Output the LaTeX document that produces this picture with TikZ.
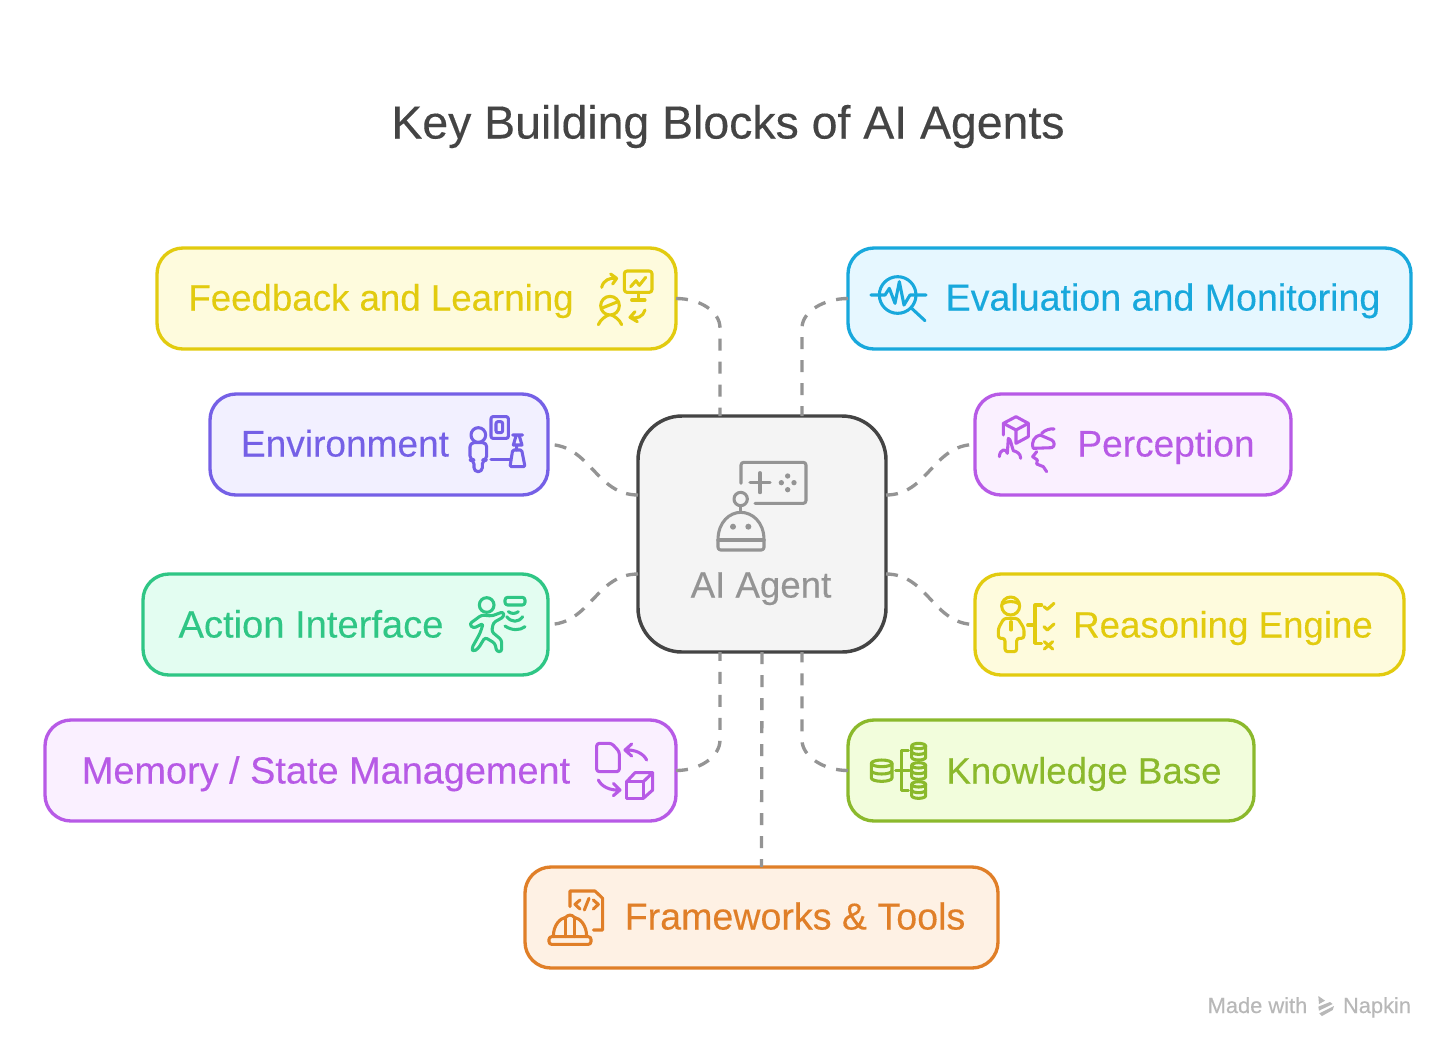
\documentclass[tikz,border=0pt]{standalone}
\usepackage{fontspec}
\setmainfont[FakeBold=0.25]{Liberation Sans}
\usetikzlibrary{calc}
\definecolor{cyellow}{HTML}{E2CB0F}\definecolor{fyellow}{HTML}{FEFBDD}
\definecolor{cblue}{HTML}{18A8DC}\definecolor{fblue}{HTML}{E6F7FF}
\definecolor{cindigo}{HTML}{7560E6}\definecolor{findigo}{HTML}{F2F0FF}
\definecolor{cpurple}{HTML}{B75AE6}\definecolor{fpurple}{HTML}{FAF0FF}
\definecolor{cgreen}{HTML}{2FC685}\definecolor{fgreen}{HTML}{E3FDF1}
\definecolor{clime}{HTML}{8BB92C}\definecolor{flime}{HTML}{F2FDDC}
\definecolor{corange}{HTML}{E07F28}\definecolor{forange}{HTML}{FEF1E4}
\definecolor{cgrey}{HTML}{949494}\definecolor{cdark}{HTML}{444444}
\definecolor{fgrey}{HTML}{F4F4F4}\definecolor{cwm}{HTML}{B8B8B8}
\newcommand\pxbox[7]{\node[#6,fill=f#7,draw=c#7,minimum width={(#4-#2)*0.75pt},minimum height={(#5-#3)*0.75pt}] (#1) at ({(#2+#4)/2},{(#3+#5)/2}) {};}
\newcommand\dbcyl[5]{% cx cy rx ry h
  \draw (#1,#2-#5/2) ellipse ({#3} and {#4});
  \draw (#1-#3,#2-#5/2) -- (#1-#3,#2+#5/2) arc[start angle=180,end angle=0,x radius=#3,y radius=#4] -- (#1+#3,#2-#5/2);
  \draw (#1-#3,#2) arc[start angle=180,end angle=0,x radius=#3,y radius=#4];}
\tikzset{
  blockbox/.style={rectangle,rounded corners=19.5pt,line width=2.5pt,inner sep=0pt,outer sep=0pt},
  blocklabel/.style={anchor=base,inner sep=0pt,font=\fontsize{#1pt}{30pt}\selectfont},
  blocklabel/.default=27.5,
  linkline/.style={draw=cgrey,line width=2.5pt,dash pattern=on 9pt off 8.25pt},
  sline/.style={draw=cgrey,line width=2.5pt,dash pattern=on 9pt off 7.5pt},
  iconline/.style={line width=2.3pt,line cap=round,line join=round,fill=none},
  zoomframe/.style={shift={#1},x=0.25pt,y=-0.25pt}
}
\begin{document}
\begin{tikzpicture}[x=0.75pt,y=-0.75pt]
\useasboundingbox (0,0) rectangle (1456,1058);
\fill[white] (0,0) rectangle (1456,1058);
\node[anchor=base,inner sep=0pt,text=cdark,font=\fontsize{34.8pt}{38pt}\selectfont] (title) at (728,138.5) {Key Building Blocks of AI Agents};
% boxes
\pxbox{feedback}{157}{248}{676}{349}{blockbox}{yellow}
\pxbox{evaluation}{848}{248}{1411}{349}{blockbox}{blue}
\pxbox{environment}{210}{394}{548}{495}{blockbox}{indigo}
\pxbox{perception}{975}{394}{1291}{495}{blockbox}{purple}
\pxbox{action}{143}{574}{548}{675}{blockbox}{green}
\pxbox{reasoning}{975}{574}{1404}{675}{blockbox}{yellow}
\pxbox{memory}{45}{720}{676}{821}{blockbox}{purple}
\pxbox{knowledge}{848}{720}{1254}{821}{blockbox}{lime}
\pxbox{frameworks}{525}{867}{998}{968}{blockbox}{orange}
\node[rectangle,rounded corners=33pt,line width=2.6pt,inner sep=0pt,outer sep=0pt,fill=fgrey,draw=cdark,minimum width=186pt,minimum height=177pt] (agent) at (762,534) {};
% labels
\node[blocklabel,text=cyellow] (lfeedback) at (381,310.5) {Feedback and Learning};
\node[blocklabel=28.2,text=cblue] (levaluation) at (1163,310.5) {Evaluation and Monitoring};
\node[blocklabel=27.8,text=cindigo] (lenvironment) at (345,456.5) {Environment};
\node[blocklabel=27.8,text=cpurple] (lperception) at (1166,456.5) {Perception};
\node[blocklabel=28.6,text=cgreen] (laction) at (311,637.5) {Action Interface};
\node[blocklabel,text=cyellow] (lreasoning) at (1223,637.5) {Reasoning Engine};
\node[blocklabel=28.4,text=cpurple] (lmemory) at (326,783.5) {Memory / State Management};
\node[blocklabel,text=clime] (lknowledge) at (1084,783.5) {Knowledge Base};
\node[blocklabel=28.2,text=corange] (lframeworks) at (795,929.5) {Frameworks \& Tools};
\node[blocklabel,text=cgrey] (lagent) at (761,597.5) {AI Agent};
\node[anchor=base,inner sep=0pt,text=cwm,font=\fontsize{16.4pt}{18pt}\selectfont] (wm1) at (1257.5,1013) {Made with};
\node[anchor=base,inner sep=0pt,text=cwm,font=\fontsize{16.4pt}{18pt}\selectfont] (wm2) at (1377,1013) {Napkin};
% connector ends on the agent
\coordinate (aNL) at ($(agent.north)+(-42,0)$);
\coordinate (aNR) at ($(agent.north)+(40,0)$);
\coordinate (aSL) at ($(agent.south)+(-42,0)$);
\coordinate (aSR) at ($(agent.south)+(40,0)$);
\coordinate (aWU) at ($(agent.west)+(0,-39)$);
\coordinate (aWD) at ($(agent.west)+(0,40)$);
\coordinate (aEU) at ($(agent.east)+(0,-39)$);
\coordinate (aED) at ($(agent.east)+(0,40)$);
% connectors
\draw[linkline] (feedback.east) .. controls +(24,0) and ($(aNL)+(0,-104.5)$) .. ($(aNL)+(0,-88)$) -- (aNL);
\draw[linkline] (evaluation.west) .. controls +(-24,0) and ($(aNR)+(0,-104.5)$) .. ($(aNR)+(0,-88)$) -- (aNR);
\draw[sline] (aWU) .. controls +(-42,0) and ($(environment.east)+(42,0)$) .. (environment.east);
\draw[sline] (aEU) .. controls +(42,0) and ($(perception.west)+(-42,0)$) .. (perception.west);
\draw[sline] (aWD) .. controls +(-42,0) and ($(action.east)+(42,0)$) .. (action.east);
\draw[sline] (aED) .. controls +(42,0) and ($(reasoning.west)+(-42,0)$) .. (reasoning.west);
\draw[linkline] (memory.east) .. controls +(24,0) and ($(aSL)+(0,104.5)$) .. ($(aSL)+(0,88)$) -- (aSL);
\draw[linkline] (knowledge.west) .. controls +(-24,0) and ($(aSR)+(0,104.5)$) .. ($(aSR)+(0,88)$) -- (aSR);
\draw[linkline] (agent.south) -- (frameworks.north);
% agent icon
\begin{scope}[zoomframe={(580,260)},iconline,draw=cgrey]
\draw (483,670) -- (483,615) [rounded corners=2pt] -- (483,607) -- (678,607) -- (678,730) -- (525,730);
\draw (540,638) -- (540,698) (510,668) -- (570,668);
\fill[cgrey] (623,648) circle (8) (604,668) circle (8) (642,668) circle (8) (623,689) circle (8);
\draw (482,717) circle (20);
\draw (482,737) -- (482,757);
\draw[rounded corners=2pt] (414,840) -- (414,870) -- (552,870) -- (552,840);
\draw (414,840) -- (552,840);
\draw (414,840) .. controls (414,785) and (450,757) .. (482,757) .. controls (516,757) and (552,785) .. (552,840);
\fill[cgrey] (459,800) circle (9) (505,800) circle (9);
\end{scope}
% feedback icon
\begin{scope}[zoomframe={(580,260)},iconline,draw=cyellow]
\draw[rounded corners=2pt] (133,33) rectangle (216,97);
\draw (175,97) -- (175,120) (155,120) -- (195,120);
\draw (152,80) -- (168,62) -- (178,76) -- (197,52);
\draw (65,82) .. controls (70,60) and (90,52) .. (110,55) (92,42) -- (110,55) -- (98,72);
\draw (90,137) circle (28);
\draw (64,145) -- (114,125);
\draw (55,194) .. controls (62,178) and (75,170) .. (85,165) (125,194) .. controls (118,178) and (105,170) .. (95,165);
\draw (195,150) .. controls (190,170) and (170,178) .. (150,172) (165,155) -- (150,172) -- (172,185);
\end{scope}
% environment icon
\begin{scope}[zoomframe={(450,400)},iconline,draw=cindigo]
\draw (85,105) circle (22);
\draw[rounded corners=3pt] (60,180) -- (60,128) -- (110,128) -- (110,180) -- (97,180) -- (97,215) -- (72,215) -- (72,180) -- cycle;
\draw[rounded corners=1.5pt] (123,50) rectangle (175,115) (138,65) rectangle (158,98);
\draw (123,178) -- (180,178);
\draw[rounded corners=1pt] (180,200) -- (188,150) -- (215,150) -- (225,200) -- cycle;
\draw (188,105) -- (218,105) (198,108) -- (190,135) -- (216,135) -- (208,108) (200,135) -- (200,150);
\end{scope}
% action icon
\begin{scope}[zoomframe={(450,400)},iconline,draw=cgreen]
\draw (110,615) circle (22);
\draw[rounded corners=2pt] (58,672) -- (95,645) -- (125,648) -- (160,635) -- (162,650) -- (130,668) -- (125,695) -- (155,720) -- (155,755) -- (140,755) -- (135,730) -- (105,712) -- (85,745) -- (70,755) -- (65,745) -- (90,700) -- (100,670) -- (70,685) -- cycle;
\draw[rounded corners=2pt] (165,592) rectangle (225,615);
\draw (175,635) .. controls (185,642) and (195,642) .. (205,635);
\draw (170,650) .. controls (185,668) and (205,668) .. (218,650);
\draw (165,678) .. controls (185,692) and (210,692) .. (225,680);
\end{scope}
% evaluation icon
\begin{scope}[zoomframe={(860,260)},iconline,draw=cblue]
\draw (113,105) circle (55);
\draw (33,105) -- (75,105) -- (88,85) -- (105,130) -- (118,65) -- (132,135) -- (150,105) -- (198,105);
\draw (155,145) -- (195,182);
\end{scope}
% perception icon
\begin{scope}[zoomframe={(860,260)},iconline,draw=cpurple]
\draw (430,525) -- (430,490) -- (468,470) -- (505,490) -- (468,510) -- (430,490);
\draw (505,490) -- (505,530) -- (468,550) -- (468,510);
\draw (418,590) .. controls (420,565) and (440,565) .. (442,580) (442,580) -- (445,535) .. controls (452,535) and (455,560) .. (460,572) .. controls (470,575) and (482,580) .. (482,595);
\draw (520,565) .. controls (512,545) and (525,528) .. (540,525) -- (575,540) .. controls (585,545) and (585,560) .. (575,563) -- cycle;
\draw (545,520) .. controls (555,510) and (570,505) .. (582,507);
\draw (530,575) -- (518,590) -- (532,600) -- (530,612) -- (550,620) -- (560,635);
\end{scope}
% reasoning icon
\begin{scope}[zoomframe={(860,580)},iconline,draw=cyellow]
\draw (452,78) circle (27);
\draw (426,72) .. controls (440,62) and (465,62) .. (478,72);
\draw[rounded corners=2pt] (415,175) -- (415,145) -- (432,115) -- (473,115) -- (492,145) -- (492,175) -- (470,175) -- (470,215) -- (435,215) -- (435,175) -- cycle;
\draw (453,125) -- (453,150);
\draw (503,135) -- (525,135);
\draw (545,75) -- (525,75) -- (525,190) -- (545,190);
\draw (552,80) -- (562,88) -- (582,70) (552,140) -- (562,150) -- (582,132);
\draw (553,185) -- (578,207) (578,185) -- (553,207);
\end{scope}
% knowledge icon
\begin{scope}[zoomframe={(860,580)},iconline,draw=clime]
\dbcyl{65}{572}{31}{10}{44}
\dbcyl{176}{515}{21}{8}{34}
\dbcyl{176}{573}{21}{8}{34}
\dbcyl{176}{630}{21}{8}{34}
\draw (107,572) -- (148,572);
\draw (145,512) -- (125,512) -- (125,632) -- (145,632);
\end{scope}
% memory icon
\begin{scope}[zoomframe={(530,730)},iconline,draw=cpurple]
\draw[rounded corners=2pt] (200,40) -- (245,40) -- (268,65) -- (268,125) -- (200,125) -- cycle;
\draw (350,90) .. controls (340,70) and (315,58) .. (285,60) (305,42) -- (285,60) -- (305,78);
\draw (205,150) .. controls (215,170) and (240,182) .. (270,180) (250,160) -- (270,180) -- (250,197);
\draw (290,155) rectangle (340,205);
\draw (290,155) -- (315,128) -- (368,128) -- (340,155) (368,128) -- (368,180) -- (340,205);
\end{scope}
% frameworks icon
\begin{scope}[zoomframe={(530,730)},iconline,draw=corange]
\draw (120,530) -- (120,483) -- (195,483) -- (218,505) -- (218,600) -- (190,600);
\draw (150,510) -- (135,523) -- (150,537) (163,540) -- (177,505) (190,510) -- (205,523) -- (190,537);
\draw (70,620) .. controls (70,585) and (90,565) .. (107,562) .. controls (115,553) and (125,553) .. (133,562) .. controls (150,565) and (170,585) .. (170,620);
\draw[rounded corners=2pt] (57,620) rectangle (183,643);
\draw (107,620) -- (107,562) (133,620) -- (133,562);
\end{scope}
% watermark logo
\begin{scope}[zoomframe={(1190,980)}]
\fill[cwm] (385,48) -- (405,62) -- (387,72) -- cycle;
\fill[cwm] (385,80) -- (420,66) -- (428,72) -- (387,92) -- cycle;
\fill[cwm] (388,100) -- (432,78) -- (428,90) -- (396,108) -- cycle;
\end{scope}
\end{tikzpicture}
\end{document}
